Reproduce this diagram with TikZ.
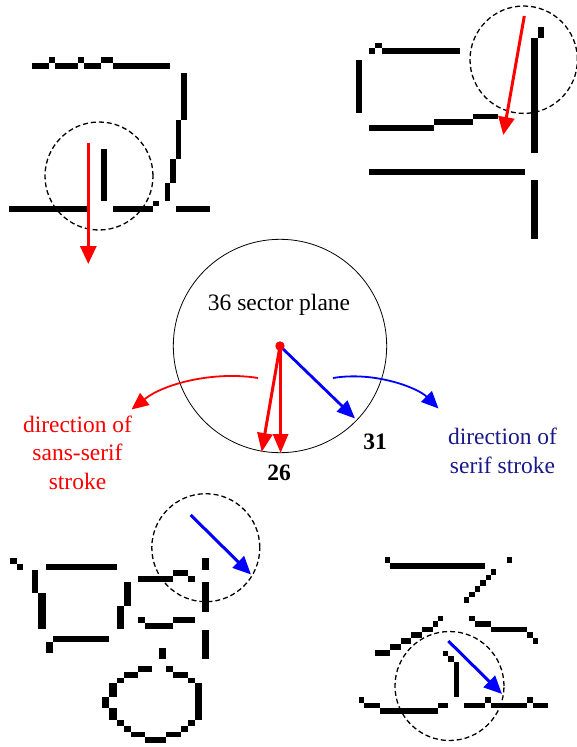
\documentclass[tikz,border=0pt]{standalone}
\usepackage{fontspec}
\setmainfont{Liberation Serif}
\usetikzlibrary{arrows.meta}
\definecolor{navytext}{RGB}{25,25,135}
\newcommand\blk[4]{\fill (#1,#2) rectangle (#3,#4);}
\begin{document}
\begin{tikzpicture}[x=1pt,y=-1pt,
  dashcirc/.style={draw=black,line width=1.3pt,dash pattern=on 5pt off 3pt},
  glyarrow/.style={line width=3pt,-{Triangle[length=18pt,width=16pt]}},
  bendarrow/.style={line width=1.8pt,-{Triangle[length=17pt,width=15pt]}},
  lbl/.style={font=\fontsize{23.5}{28.5}\selectfont,align=center,anchor=base,inner sep=0pt},
  num/.style={font=\fontsize{23.5}{27.5}\selectfont\bfseries,anchor=base,inner sep=0pt}]
\useasboundingbox (0,0) rectangle (577,747);

% ---------- glyph 1 (top left)
\blk{32}{63}{49}{68.5}
\blk{49}{57}{55}{63}
\blk{55}{63}{78}{68.5}
\blk{78}{57}{84}{63}
\blk{84}{63}{101}{68.5}
\blk{101}{57}{112.5}{63}
\blk{112.5}{63}{170}{68.5}
\blk{181}{73}{187}{120}
\blk{175.5}{120}{181}{159}
\blk{170}{159}{175.5}{183}
\blk{164.5}{183}{170}{201}
\blk{153}{201}{158.5}{206}
\blk{9}{206}{87}{211.7}
\blk{112.7}{206}{152.7}{211.7}
\blk{176}{206}{210}{211.7}
\blk{101}{149}{107}{201}
\draw[dashcirc] (99,176) circle[radius=54pt];
\coordinate (g1s) at (88.3,143);
\coordinate (g1e) at (88.3,264);
\draw[red,glyarrow] (g1s) -- (g1e);

% ---------- glyph 2 (top right)
\blk{375}{42.7}{381.7}{48.3}
\blk{369}{48.3}{375}{54}
\blk{381.7}{48.3}{460}{54}
\blk{356}{60}{362.3}{113.3}
\blk{369}{125}{434}{130.7}
\blk{434}{119.3}{473.3}{125}
\blk{473.3}{114}{498.3}{119.3}
\blk{531}{38.3}{537.7}{152.7}
\blk{537.7}{26.7}{544}{38.3}
\blk{369}{169}{525}{174.5}
\blk{531}{180}{537.7}{239.3}
\draw[dashcirc] (523.7,59.7) circle[radius=53.7pt];
\coordinate (g2s) at (524.3,16);
\coordinate (g2e) at (503.3,135);
\draw[red,glyarrow] (g2s) -- (g2e);

% ---------- glyph 3 (bottom left)
\blk{10}{558.3}{16.7}{564}
\blk{16.7}{564}{23.3}{570}
\blk{46}{564}{116.7}{570}
\blk{31.7}{570}{37.7}{593.3}
\blk{37.7}{593.3}{45.7}{629.3}
\blk{53.3}{636}{109}{641.7}
\blk{46}{641.7}{53.3}{653.3}
\blk{124}{581.7}{130.7}{606}
\blk{117.3}{606}{124}{629.3}
\blk{138.3}{576}{172.7}{581.7}
\blk{172.7}{570}{187.7}{576}
\blk{187.7}{576}{195}{581.7}
\blk{202.3}{558.3}{209}{570}
\blk{202.3}{581.7}{209}{611.7}
\blk{202.3}{630}{209}{659.3}
\blk{138.3}{617.3}{145}{623.3}
\blk{145}{623.3}{172.7}{629.3}
\blk{172.7}{617.3}{195}{623.3}
\blk{159}{647.7}{165.7}{659.3}
% oval
\blk{138.3}{665.7}{151.7}{671.7}
\blk{165.7}{665.7}{172.7}{671.7}
\blk{124}{671.7}{138.3}{677.7}
\blk{172.7}{671.7}{187.7}{677.7}
\blk{116.7}{677.7}{124}{683.3}
\blk{187.7}{677.7}{195}{683.3}
\blk{109.3}{683.3}{116.7}{696.7}
\blk{195}{683.3}{201.7}{720}
\blk{102.3}{696.7}{109.3}{708.3}
\blk{109.3}{708.3}{116.7}{720}
\blk{116.7}{720}{124}{725.7}
\blk{187.7}{720}{195}{725.7}
\blk{124}{725.7}{131}{731.7}
\blk{181}{725.7}{187.7}{731.7}
\blk{131}{731.7}{145}{737.3}
\blk{165.7}{731.7}{181}{737.3}
\blk{145}{737.3}{165.7}{743.3}
\draw[dashcirc] (205.8,547.7) circle[radius=54pt];
\coordinate (g3s) at (190.7,515);
\coordinate (g3e) at (251,574.5);
\draw[blue,glyarrow] (g3s) -- (g3e);

% ---------- glyph 4 (bottom right)
\blk{385}{557}{390}{562.5}
\blk{390}{562.5}{485}{568.5}
\blk{506.5}{557}{512}{562.5}
\blk{491}{568.5}{496}{574.5}
\blk{485.7}{574.5}{491}{580}
\blk{480}{580}{485.7}{585.7}
\blk{475}{585.7}{480}{591.5}
\blk{469.3}{591.5}{475}{597.3}
\blk{464}{597.3}{469.3}{603.3}
\blk{437.7}{616}{442.7}{621}
\blk{432.7}{621}{437.7}{626.7}
\blk{421.7}{626.7}{432.7}{632.3}
\blk{411}{632.3}{421.7}{638.3}
\blk{401}{638.3}{411}{644.3}
\blk{390}{644.3}{401}{650.3}
\blk{375}{650.3}{390}{656}
\blk{469.3}{616}{475}{621}
\blk{475}{621}{491}{626.7}
\blk{491}{626.7}{527.3}{632.3}
\blk{527.3}{632.3}{532.7}{638.3}
\blk{532.7}{638.3}{537.7}{644.3}
\blk{442.7}{650.7}{448}{656}
\blk{448}{656}{454.3}{661.7}
\blk{454.3}{661.7}{459.3}{696.7}
\blk{359}{697.3}{364}{702.7}
\blk{364}{702.7}{380}{708.3}
\blk{380}{708.3}{437.7}{714}
\blk{437.7}{702.7}{448.3}{708.3}
\blk{464}{702.7}{485}{708.3}
\blk{485}{697.3}{490.7}{702.7}
\blk{490.7}{702.7}{527.3}{708.3}
\blk{527.3}{697.3}{532.7}{702.7}
\blk{532.7}{702.7}{548.3}{708.3}
\draw[dashcirc] (449.5,686) circle[radius=54.5pt];
\coordinate (g4s) at (448.3,641);
\coordinate (g4e) at (502,694);
\draw[blue,glyarrow] (g4s) -- (g4e);

% ---------- centre: 36 sector plane
\node[draw=black,line width=0.8pt,circle,minimum size=213.4pt,inner sep=0pt] (plane) at (280,346) {};
\node[lbl] (title) at (279,310.7) {36 sector plane};
\coordinate (ctr) at (280,346);
\coordinate (ctrb) at (280.6,346);
\coordinate (t26a) at (261.7,452);
\coordinate (t26b) at (280.6,453);
\coordinate (t31) at (355,418.5);
\draw[blue,line width=2.8pt,-{Triangle[length=18pt,width=15pt]}] (ctr) -- (t31);
\draw[red,line width=3pt,-{Triangle[length=19pt,width=15pt]}] (ctr) -- (t26a);
\draw[red,line width=3.2pt,-{Triangle[length=19pt,width=15pt]}] (ctrb) -- (t26b);
\fill[red] (ctr) circle[radius=4.7pt];
\node[num] (n26) at (279,480.7) {26};
\node[num] (n31) at (375,449.3) {31};

% curved arrows
\coordinate (rs) at (258,378);
\coordinate (re) at (131.5,409.5);
\coordinate (bs) at (333,378);
\coordinate (be) at (438.5,408.5);
\draw[red,bendarrow] (rs) .. controls (215,371) and (165,383) .. (re);
\draw[blue,bendarrow] (bs) .. controls (375,371) and (418,388) .. (be);

\node[lbl,red] (sans) at (77.5,489) {direction of\\sans-serif\\stroke};
\node[lbl,navytext] (serif) at (502.5,473.2) {direction of\\serif stroke};
\end{tikzpicture}
\end{document}
